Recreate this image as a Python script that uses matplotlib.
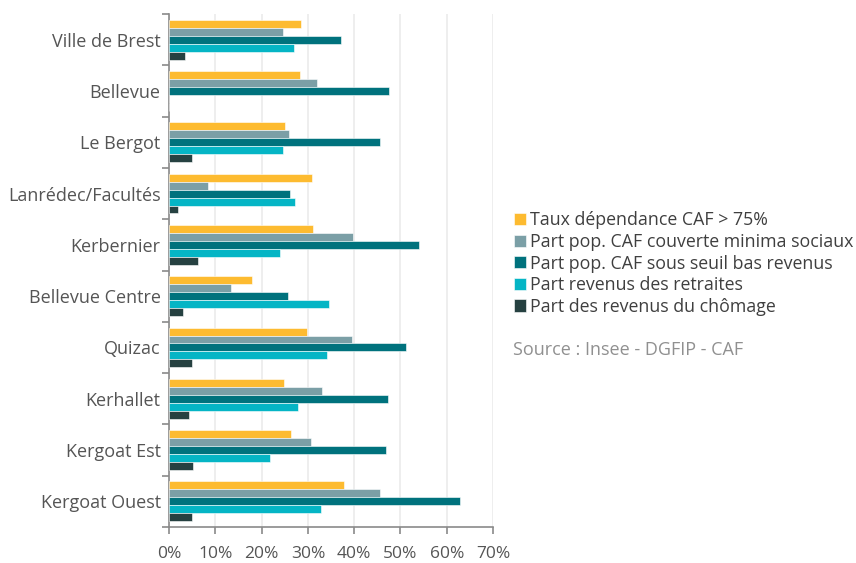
import matplotlib
matplotlib.use("Agg")
import matplotlib.pyplot as plt
import numpy as np
from matplotlib.ticker import FixedLocator, FuncFormatter

plt.rcParams['font.family'] = ['Open Sans', 'DejaVu Sans']

quartiers = ["Ville de Brest", "Bellevue", "Le Bergot", "Lanrédec/Facultés",
             "Kerbernier", "Bellevue Centre", "Quizac", "Kerhallet",
             "Kergoat Est", "Kergoat Ouest"]

series_names = ["Taux dépendance CAF > 75%",
                "Part pop. CAF couverte minima sociaux",
                "Part pop. CAF sous seuil bas revenus",
                "Part revenus des retraites",
                "Part des revenus du chômage"]

taux_dependance = [28.6, 28.3, 25.0, 30.8, 31.0, 18.0, 29.9, 24.8, 26.3, 37.7]
minima_sociaux = [24.7, 32.0, 26.0, 8.4, 39.8, 13.4, 39.5, 33.0, 30.7, 45.6]
bas_revenus = [37.1, 47.5, 45.5, 26.1, 54.1, 25.8, 51.2, 47.3, 46.8, 62.9]
retraites = [27.1, 0.0, 24.6, 27.3, 24.0, 34.6, 34.1, 27.9, 21.9, 32.8]
chomage = [3.5, 0.0, 5.0, 1.9, 6.3, 3.1, 5.0, 4.4, 5.1, 5.0]

colors = ["#FDBB30", "#7B9FA6", "#00727D", "#05B5C5", "#264141"]
series = [taux_dependance, minima_sociaux, bas_revenus, retraites, chomage]

fig = plt.figure(figsize=(8.56, 5.63), dpi=100)
ax = fig.add_axes([0.1975, 0.064, 0.3785, 0.911])

n = len(quartiers)
y = np.arange(n)
bar_h = 0.155
for i, (vals, col, name) in enumerate(zip(series, colors, series_names)):
    offs = (i - 2) * bar_h
    ax.barh(y + offs, vals, height=bar_h, color=col, label=name,
            edgecolor="white", linewidth=0.4, zorder=3)

ax.set_ylim(n - 0.5, -0.5)
ax.set_xlim(0, 70)

text_col = "#555555"
ax.xaxis.set_major_locator(FixedLocator(np.arange(0, 71, 10)))
ax.xaxis.set_major_formatter(FuncFormatter(lambda v, p: f"{int(v)}%"))
ax.grid(axis="x", color="#EBEBEB", linewidth=1.2, zorder=0)
ax.set_yticks(y)
ax.set_yticklabels(quartiers)
ax.yaxis.set_minor_locator(FixedLocator(np.arange(-0.5, n, 1.0)))
ax.tick_params(axis="y", which="major", length=0, pad=6, labelsize=13,
               labelcolor=text_col)
ax.tick_params(axis="y", which="minor", length=5, width=1.2, color="#8A8A8A")
ax.tick_params(axis="x", length=5, width=1.2, color="#8A8A8A", pad=9,
               labelsize=12.5, labelcolor=text_col)

for s in ["top", "right"]:
    ax.spines[s].set_visible(False)
for s in ["left", "bottom"]:
    ax.spines[s].set_color("#8A8A8A")
    ax.spines[s].set_linewidth(1.2)

handles, labels = ax.get_legend_handles_labels()
leg = fig.legend(handles, labels, loc="upper left", bbox_to_anchor=(0.592, 0.637),
                 frameon=False, fontsize=12.8, handlelength=0.68, handleheight=0.68,
                 handletextpad=0.22, labelspacing=0.2, borderaxespad=0)
for t in leg.get_texts():
    t.set_color("#3F3F3F")

fig.text(0.599, 0.378, "Source : Insee - DGFIP - CAF", fontsize=13,
         color="#909090", va="center", ha="left")

fig.savefig("out.png", dpi=100)
